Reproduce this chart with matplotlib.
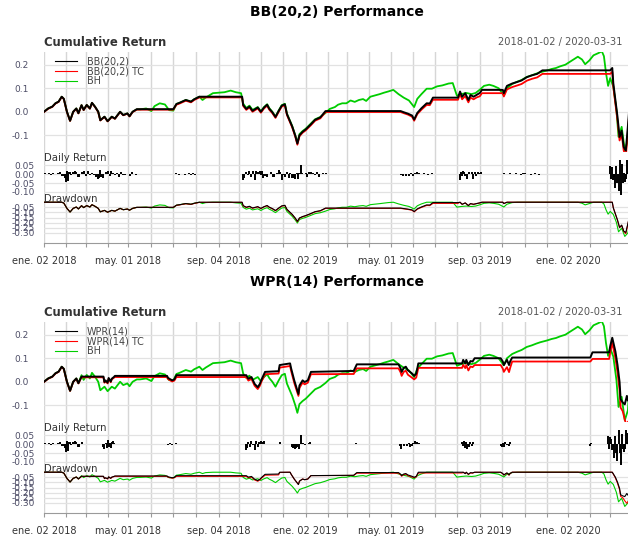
import numpy as np
import matplotlib.pyplot as plt
from matplotlib.lines import Line2D

plt.rcParams['font.family'] = 'DejaVu Sans'
plt.rcParams['axes.unicode_minus'] = False

# ---- data (x = trading day index since 2018-01-02) ----
month_days = [0, 21, 40, 61, 81, 103, 124, 146, 168, 187, 208, 229, 251, 272, 291, 312,
              333, 354, 375, 396, 418, 439, 461, 482, 503, 524, 543]
month_labels = ['ene. 02 2018', 'may. 01 2018', 'sep. 04 2018', 'ene. 02 2019',
                'may. 01 2019', 'sep. 03 2019', 'ene. 02 2020']
last_day = 562

bh_days = [0, 4, 8, 11, 14, 17, 19, 22, 25, 28, 31, 33, 36, 38, 41, 44, 46, 49, 52, 54, 58, 61, 65, 68,
           73, 76, 80, 82, 85, 89, 92, 98, 103, 106, 111, 116, 120, 124, 127, 130, 136, 141, 144, 149,
           152, 155, 162, 168, 173, 179, 184, 189, 191, 194, 197, 200, 205, 208, 211, 214, 216, 219,
           222, 225, 228, 231, 233, 238, 241, 243, 245, 248, 251, 256, 260, 265, 270, 274, 279, 282,
           286, 290, 294, 298, 302, 306, 309, 313, 318, 322, 326, 330, 335, 340, 345, 350, 355, 358,
           362, 367, 372, 377, 382, 388, 392, 396, 400, 405, 410, 414, 418, 422, 427, 431, 436, 441,
           444, 449, 454, 458, 463, 468, 472, 476, 482, 487, 491, 495, 500, 505, 510, 512, 516, 519,
           523, 527, 532, 535, 537, 539, 541, 543, 546, 549, 551, 554, 557, 560, 561, 562]
bh_cum = [0.000, 0.014, 0.022, 0.036, 0.043, 0.064, 0.055, 0.000, -0.038, 0.000, 0.014, -0.006, 0.028,
          0.008, 0.029, 0.014, 0.038, 0.021, 0.000, -0.036, -0.021, -0.040, -0.021, -0.029, 0.000,
          -0.014, -0.007, -0.019, 0.000, 0.010, 0.010, 0.014, 0.003, 0.024, 0.036, 0.031, 0.007, 0.005,
          0.033, 0.038, 0.050, 0.043, 0.053, 0.064, 0.050, 0.060, 0.079, 0.081, 0.083, 0.090, 0.083,
          0.079, 0.035, 0.016, 0.026, 0.008, 0.020, 0.002, 0.020, 0.032, 0.016, 0.000, -0.021, 0.005,
          0.028, 0.034, -0.008, -0.060, -0.100, -0.132, -0.095, -0.082, -0.072, -0.050, -0.032, -0.022,
          -0.005, 0.012, 0.020, 0.030, 0.036, 0.036, 0.048, 0.042, 0.050, 0.054, 0.046, 0.064, 0.070,
          0.075, 0.081, 0.086, 0.093, 0.075, 0.060, 0.048, 0.020, 0.055, 0.075, 0.098, 0.098, 0.108,
          0.112, 0.120, 0.122, 0.068, 0.075, 0.080, 0.075, 0.080, 0.094, 0.110, 0.115, 0.110, 0.100,
          0.070, 0.100, 0.118, 0.128, 0.135, 0.148, 0.155, 0.162, 0.168, 0.175, 0.182, 0.186, 0.193,
          0.200, 0.214, 0.228, 0.234, 0.222, 0.202, 0.218, 0.240, 0.250, 0.257, 0.236, 0.164, 0.110,
          0.143, 0.107, 0.007, -0.107, -0.064, -0.164, -0.121, -0.050, -0.060]

bb_days = [0, 4, 8, 11, 14, 17, 19, 22, 25, 28, 31, 33, 36, 38, 41, 44, 46, 49, 52, 54, 58, 61, 65, 68,
           73, 76, 80, 82, 85, 89, 124, 127, 130, 136, 141, 144, 149, 190, 191, 194, 197, 200, 205, 208,
           211, 214, 216, 219, 222, 225, 228, 231, 233, 238, 241, 243, 245, 248, 251, 256, 260, 265,
           270, 342, 345, 349, 353, 355, 358, 362, 367, 370, 373, 397, 399, 401, 404, 407, 409, 412,
           415, 418, 420, 440, 441, 444, 449, 454, 458, 463, 468, 473, 478, 543, 545, 546, 548, 550,
           552, 554, 556, 558, 560, 561, 562]
bb_cum = [0.000, 0.014, 0.022, 0.036, 0.043, 0.064, 0.055, 0.000, -0.038, 0.000, 0.014, -0.006, 0.028,
          0.008, 0.029, 0.014, 0.038, 0.021, 0.000, -0.036, -0.021, -0.040, -0.021, -0.029, 0.000,
          -0.014, -0.007, -0.019, 0.000, 0.011, 0.011, 0.033, 0.038, 0.050, 0.043, 0.053, 0.064, 0.064,
          0.029, 0.012, 0.022, 0.004, 0.018, 0.000, 0.018, 0.030, 0.013, -0.002, -0.022, 0.003, 0.026,
          0.032, -0.010, -0.062, -0.102, -0.135, -0.100, -0.085, -0.075, -0.053, -0.034, -0.024, 0.003,
          0.003, -0.002, -0.008, -0.016, -0.033, -0.005, 0.015, 0.036, 0.035, 0.060, 0.060, 0.086,
          0.064, 0.079, 0.050, 0.071, 0.064, 0.072, 0.080, 0.093, 0.093, 0.079, 0.110, 0.120, 0.127,
          0.133, 0.147, 0.155, 0.161, 0.176, 0.176, 0.186, 0.121, 0.050, -0.021, -0.107, -0.080,
          -0.150, -0.165, -0.060, -0.005, 0.000]
bb_tc_cum = [-0.001, 0.013, 0.021, 0.035, 0.042, 0.063, 0.054, -0.001, -0.039, -0.001, 0.013, -0.007,
             0.027, 0.007, 0.028, 0.013, 0.037, 0.020, -0.001, -0.037, -0.022, -0.041, -0.022, -0.030,
             -0.001, -0.015, -0.008, -0.020, -0.001, 0.009, 0.009, 0.030, 0.035, 0.047, 0.040, 0.050,
             0.061, 0.061, 0.025, 0.008, 0.018, 0.000, 0.014, -0.004, 0.014, 0.026, 0.009, -0.006,
             -0.026, -0.001, 0.022, 0.028, -0.014, -0.066, -0.106, -0.140, -0.104, -0.089, -0.079,
             -0.057, -0.038, -0.028, -0.001, -0.001, -0.006, -0.012, -0.021, -0.038, -0.010, 0.009,
             0.029, 0.028, 0.051, 0.051, 0.075, 0.053, 0.067, 0.040, 0.060, 0.053, 0.061, 0.066, 0.079,
             0.079, 0.065, 0.095, 0.105, 0.112, 0.118, 0.132, 0.140, 0.146, 0.161, 0.161, 0.170, 0.105,
             0.034, -0.036, -0.122, -0.095, -0.165, -0.190, -0.080, -0.025, -0.020]

wpr_days = [0, 4, 8, 11, 14, 17, 19, 22, 25, 28, 31, 33, 36, 57, 58, 59, 61, 62, 64, 65, 67, 68, 118,
            119, 123, 125, 127, 194, 196, 199, 202, 205, 207, 209, 212, 225, 226, 236, 237, 240, 244,
            245, 248, 250, 253, 256, 297, 300, 340, 342, 343, 345, 347, 349, 353, 355, 357, 359, 401,
            402, 404, 405, 407, 409, 411, 413, 438, 440, 441, 443, 444, 446, 447, 449, 524, 526, 542,
            543, 545, 548, 550, 552, 553, 555, 557, 559, 560, 562]
wpr_cum = [0.000, 0.014, 0.022, 0.036, 0.043, 0.064, 0.055, 0.000, -0.038, 0.000, 0.014, -0.006, 0.022,
           0.022, -0.001, 0.006, -0.004, 0.016, 0.001, 0.013, 0.020, 0.025, 0.025, 0.016, 0.006, 0.010,
           0.028, 0.028, 0.013, 0.020, -0.009, -0.023, -0.009, 0.013, 0.042, 0.045, 0.071, 0.078,
           0.057, 0.006, -0.052, -0.016, 0.006, -0.001, 0.006, 0.042, 0.046, 0.074, 0.074, 0.057,
           0.042, 0.059, 0.064, 0.049, 0.035, 0.025, 0.035, 0.078, 0.078, 0.093, 0.078, 0.093, 0.071,
           0.088, 0.086, 0.100, 0.100, 0.086, 0.071, 0.086, 0.093, 0.071, 0.086, 0.103, 0.103, 0.125,
           0.125, 0.151, 0.187, 0.129, 0.072, -0.001, -0.074, -0.088, -0.096, -0.060, -0.080, -0.070]
wpr_tc_cum = [-0.001, 0.013, 0.021, 0.035, 0.042, 0.063, 0.054, -0.001, -0.039, -0.001, 0.013, -0.007,
              0.019, 0.019, -0.004, 0.003, -0.007, 0.013, -0.002, 0.010, 0.017, 0.020, 0.020, 0.011,
              0.001, 0.005, 0.020, 0.020, 0.005, 0.012, -0.017, -0.031, -0.017, 0.005, 0.032, 0.035,
              0.060, 0.067, 0.046, -0.005, -0.060, -0.026, -0.004, -0.011, -0.004, 0.032, 0.033, 0.057,
              0.057, 0.040, 0.025, 0.042, 0.047, 0.030, 0.017, 0.010, 0.018, 0.059, 0.059, 0.072,
              0.058, 0.071, 0.048, 0.065, 0.062, 0.071, 0.071, 0.056, 0.042, 0.056, 0.062, 0.041, 0.058,
              0.086, 0.086, 0.097, 0.097, 0.125, 0.165, 0.100, 0.040, -0.035, -0.110, -0.125, -0.161,
              -0.190, -0.170, -0.165]

bb_ret_days = [1, 3, 5, 7, 9, 11, 13, 15, 17, 19, 20, 21, 22, 23, 24, 25, 26, 28, 30, 31, 33, 34, 36,
               38, 40, 42, 44, 46, 48, 50, 52, 53, 54, 55, 57, 59, 61, 63, 64, 66, 68, 70, 72, 74, 76,
               78, 80, 82, 84, 86, 88,
               127, 129, 131, 133, 135, 137, 139, 141, 143, 145, 147, 149,
               191, 192, 194, 196, 197, 199, 200, 202, 203, 205, 207, 208, 209, 210, 212, 214, 216,
               218, 220, 221, 223, 225, 226, 228, 230, 231, 233, 235, 236, 238, 239, 240, 241, 243,
               244, 245, 246, 247, 249, 251, 252, 254, 256, 258, 260, 262, 264, 266, 268, 270,
               342, 344, 345, 347, 349, 350, 352, 354, 356, 358, 360, 362, 364, 366, 368, 370, 372,
               399, 400, 401, 402, 403, 404, 405, 406, 407, 408, 410, 411, 413, 414, 416, 417, 419, 420,
               441, 443, 445, 447, 449, 451, 453, 455, 457, 459, 461, 463, 465, 467, 469, 471, 473,
               475, 477,
               543, 544, 545, 546, 547, 548, 549, 550, 551, 552, 553, 554, 555, 556, 557, 558, 559,
               560, 561]
bb_ret = [0.008, 0.004, 0.007, -0.002, 0.009, 0.004, 0.006, 0.012, -0.007, -0.011, -0.021, -0.041, 0.017,
          -0.037, 0.015, 0.014, -0.005, 0.013, 0.016, 0.011, -0.013, -0.015, 0.011, 0.017, -0.010,
          0.018, -0.005, 0.008, -0.006, -0.014, -0.025, -0.021, 0.027, -0.017, -0.022, 0.012, 0.016,
          -0.011, 0.017, 0.008, -0.005, 0.010, -0.013, 0.011, -0.006, -0.003, 0.003, -0.007, 0.013,
          0.003, -0.002,
          0.005, -0.002, 0.004, 0.002, -0.004, 0.003, 0.005, -0.006, 0.005, -0.003, 0.003, 0.002,
          -0.033, -0.021, 0.014, -0.006, 0.019, -0.017, 0.017, -0.030, 0.016, 0.011, 0.021, -0.006,
          0.021, -0.019, -0.008, -0.017, 0.002, 0.011, -0.018, -0.017, 0.008, 0.023, 0.011, -0.032,
          -0.003, -0.015, 0.014, -0.021, 0.005, -0.019, -0.015, -0.020, -0.027, 0.009, -0.025, 0.009,
          0.050, 0.010, 0.004, 0.007, -0.014, 0.011, 0.013, 0.008, -0.002, 0.013, -0.014, 0.002,
          0.009, 0.009,
          -0.002, -0.012, 0.004, -0.007, 0.003, -0.010, 0.008, -0.009, 0.010, 0.011, 0.008, -0.001,
          0.009, 0.003, -0.003, 0.004, 0.008,
          -0.030, 0.013, -0.007, 0.019, 0.013, -0.007, 0.004, -0.029, 0.003, 0.015, 0.012, -0.026,
          0.011, -0.007, 0.011, 0.009, 0.011, 0.003,
          0.008, 0.004, 0.004, 0.005, -0.001, 0.003, 0.005, 0.001, -0.003, 0.005, 0.006, 0.003, 0.001,
          -0.002, 0.001, 0.005, 0.003, -0.004, 0.004,
          0.046, -0.028, 0.042, -0.034, -0.017, -0.076, 0.049, -0.049, -0.095, 0.093, -0.120, 0.060,
          -0.052, 0.005, -0.043, -0.029, 0.094, 0.012, 0.060]

wpr_ret_days = [1, 3, 5, 7, 9, 11, 13, 15, 17, 19, 20, 21, 22, 23, 24, 25, 26, 28, 30, 31, 33, 34, 36,
                57, 58, 59, 60, 61, 62, 63, 64, 65, 66, 67,
                119, 121, 123, 125, 127,
                194, 195, 196, 198, 199, 200, 202, 203, 205, 206, 208, 210, 211,
                226,
                238, 239, 240, 241, 242, 243, 245, 246, 247, 248, 250, 252, 254, 255,
                299,
                341, 342, 343, 345, 346, 348, 350, 351, 353, 354, 356, 358, 359, 360,
                401, 402, 403, 404, 405, 406, 407, 408, 409, 410, 411,
                438, 439, 440, 441, 442, 444, 445, 446, 447, 448,
                524, 525,
                541, 542, 543, 544, 545, 546, 547, 548, 549, 550, 551, 552, 553, 554, 555, 556, 557,
                558, 559, 560, 561]
wpr_ret = [0.008, 0.004, 0.007, -0.002, 0.009, 0.004, 0.006, 0.012, -0.007, -0.011, -0.021, -0.041,
           0.017, -0.037, 0.015, 0.014, -0.005, 0.013, 0.016, 0.011, -0.013, -0.015, 0.011,
           -0.014, -0.025, 0.010, -0.021, 0.027, -0.017, 0.007, -0.022, 0.013, 0.016, 0.008,
           -0.004, 0.005, -0.006, 0.003, 0.009,
           -0.033, -0.021, 0.014, -0.017, 0.017, -0.006, -0.030, 0.016, -0.017, 0.011, 0.021, 0.011,
           0.021,
           0.011,
           -0.015, -0.020, -0.021, -0.027, -0.020, -0.015, -0.025, 0.050, 0.009, 0.008, -0.003, 0.004,
           0.007, 0.011,
           0.010,
           -0.012, -0.024, 0.004, -0.007, 0.003, -0.012, 0.008, -0.013, -0.007, 0.008, 0.021, 0.011,
           0.010, 0.008,
           0.013, -0.007, 0.019, -0.020, 0.013, -0.029, 0.003, -0.013, 0.015, -0.007, 0.012,
           -0.012, -0.018, 0.008, -0.014, 0.014, -0.005, 0.004, -0.007, 0.011, 0.003,
           -0.010, 0.007,
           0.046, -0.028, 0.042, 0.030, -0.034, -0.017, -0.076, 0.049, -0.049, -0.095, 0.093, -0.052,
           -0.120, 0.060, -0.029, -0.043, -0.029, 0.094, 0.012, 0.062, -0.016]

GREEN = '#00cd00'
RED = '#ff0000'
TXT = '#333333'
TICK = '#4d4d66'

W, H = 628, 539
X0, X1 = 44, 630
fig = plt.figure(figsize=(W / 100, H / 100), dpi=100)


def add_ax(y_top, y_bot):
    ax = fig.add_axes([X0 / W, 1 - y_bot / H, (X1 - X0) / W, (y_bot - y_top) / H])
    ax.set_xlim(0, last_day)
    ax.patch.set_alpha(0)
    for s in ax.spines.values():
        s.set_visible(False)
    return ax


def ftext(x, y, s, **kw):
    fig.text(x / W, 1 - y / H, s, **kw)


def drawdown(vals):
    w = 1 + np.array(vals)
    return w / np.maximum.accumulate(w) - 1


def panel_y(ax, ylim, ticks, labels, pad):
    ax.set_ylim(*ylim)
    ax.set_yticks(ticks)
    ax.set_yticklabels(labels)
    ax.set_xticks([])
    ax.tick_params(axis='y', length=0, pad=pad, labelsize=6.5, labelcolor=TICK)
    for t in ticks:
        ax.axhline(t, color='#e2e2e2', lw=0.9, zorder=0)


def block(off, title, names, s_days, s_cum, s_tc, r_days, r_vals):
    # background with month grid and the time axis
    bg = add_ax(52 + off, 243 + off)
    bg.set_ylim(0, 1)
    bg.set_yticks([])
    for d in month_days:
        bg.axvline(d, color='#d6d6d6', lw=1.0, zorder=0)
    bg.spines['bottom'].set_visible(True)
    bg.spines['bottom'].set_color('#9a9a9a')
    bg.set_xticks(month_days)
    bg.set_xticklabels([month_labels[i // 4] if i % 4 == 0 else '' for i in range(len(month_days))])
    bg.tick_params(axis='x', direction='out', length=3, width=0.8, color='#9a9a9a',
                   pad=6.5, labelsize=7, labelcolor=TXT)

    ftext((X0 + X1) / 2, 12 + off, title, ha='center', va='center', fontsize=10,
          fontweight='bold', color='black')
    ftext(X0, 42 + off, 'Cumulative Return', ha='left', va='center', fontsize=8.4,
          fontweight='bold', color=TXT)
    ftext(622, 42 + off, '2018-01-02 / 2020-03-31', ha='right', va='center', fontsize=7.1,
          color='#555555')

    # cumulative return
    ax = add_ax(52 + off, 152 + off)
    panel_y(ax, (-0.171, 0.254), [-0.1, 0.0, 0.1, 0.2], ['-0.1', '0.0', '0.1', '0.2'], 11)
    ax.plot(bh_days, bh_cum, color=GREEN, lw=1.3)
    ax.plot(s_days, s_tc, color=RED, lw=1.3)
    ax.plot(s_days, s_cum, color='black', lw=1.4)

    for i, (nm, c) in enumerate(zip(names + ['BH'], ['black', RED, GREEN])):
        y = 1 - (61 + off + 10 * i) / H
        fig.add_artist(Line2D([55 / W, 77 / W], [y, y], color=c, lw=0.8))
        ftext(87, 61 + off + 10 * i, nm, ha='left', va='center', fontsize=6.9, color='#444444')

    # daily return
    ftext(X0, 157.7 + off, 'Daily Return', ha='left', va='center', fontsize=7.3, color=TXT)
    ax = add_ax(160 + off, 196 + off)
    panel_y(ax, (-0.123, 0.081), [-0.10, -0.05, 0.0, 0.05],
            ['-0.10', '-0.05', '0.00', '0.05'], 6.5)
    ax.vlines(r_days, 0, r_vals, color='black', lw=1.4)

    # drawdown
    ftext(X0, 199.3 + off, 'Drawdown', ha='left', va='center', fontsize=7.3, color=TXT)
    ax = add_ax(201 + off, 240 + off)
    dticks = [-0.30, -0.25, -0.20, -0.15, -0.10, -0.05]
    panel_y(ax, (-0.37, 0.012), dticks, ['%.2f' % t for t in dticks], 6.5)
    ax.plot(bh_days, drawdown(bh_cum), color=GREEN, lw=0.8)
    ax.plot(s_days, drawdown(s_tc), color=RED, lw=0.8)
    ax.plot(s_days, drawdown(s_cum), color='black', lw=0.8)


block(0, 'BB(20,2) Performance', ['BB(20,2)', 'BB(20,2) TC'],
      bb_days, bb_cum, bb_tc_cum, bb_ret_days, bb_ret)
block(270, 'WPR(14) Performance', ['WPR(14)', 'WPR(14) TC'],
      wpr_days, wpr_cum, wpr_tc_cum, wpr_ret_days, wpr_ret)

fig.savefig('out.png', dpi=100)
